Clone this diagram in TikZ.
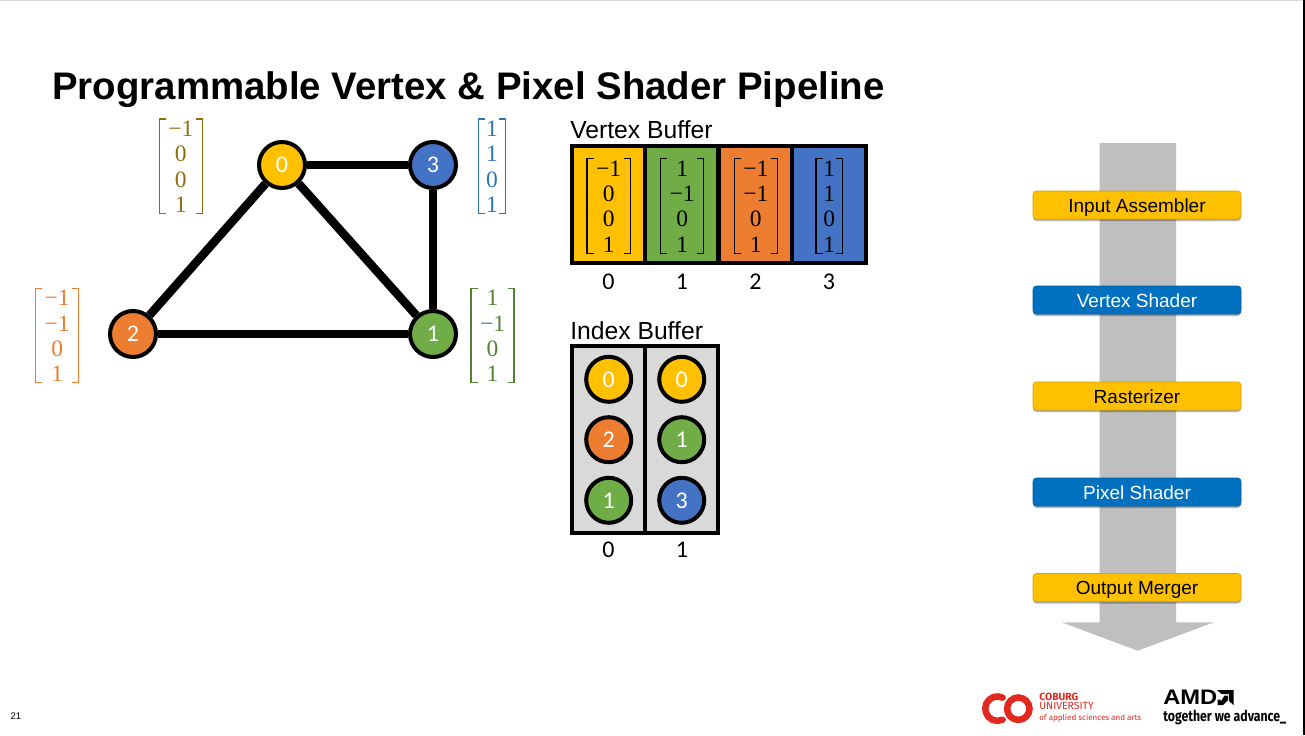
\documentclass[tikz,border=0pt]{standalone}
\usepackage{graphicx}
\usepackage{fontspec}
\newfontfamily\arialf{Liberation Sans}
\newfontfamily\calibf{Carlito}
\newfontfamily\togetherf{Fira Sans}
\newfontfamily\matf{Liberation Serif}
\usetikzlibrary{shadows}
\definecolor{cyel}{HTML}{FFC000}
\definecolor{cgrn}{HTML}{70AD47}
\definecolor{corg}{HTML}{ED7D31}
\definecolor{cblu}{HTML}{4472C4}
\definecolor{cmatyel}{HTML}{8F6E10}
\definecolor{cmatblu}{HTML}{2E75B6}
\definecolor{cmatgrn}{HTML}{548235}
\definecolor{cstage}{HTML}{0070C0}
\definecolor{cflow}{HTML}{BFBFBF}
\definecolor{cidx}{HTML}{D9D9D9}
\definecolor{cred}{HTML}{E3281F}
\newlength{\px}\setlength{\px}{0.75pt}
\newcommand{\pxfont}[2]{\fontsize{#1\px}{#2\px}\selectfont}
\tikzset{
  x=0.75pt,y=-0.75pt,
  vert/.style={circle,draw=black,line width=3pt,minimum size=34.5pt,inner sep=0pt,
     text=white,font=\calibf\pxfont{24}{25}},
  ivert/.style={vert,minimum size=33.75pt},
  edgeline/.style={line width=6.4pt,black},
  buf/.style={draw=black,line width=3pt,inner sep=0pt,outer sep=0pt,minimum width=55.1pt,anchor=north west},
  mat/.style={inner sep=0pt,align=center,font=\matf\pxfont{23.5}{25.2}},
  brk/.style={line width=1pt},
  lab/.style={font=\calibf\pxfont{24}{26},inner sep=0pt},
  heading/.style={font=\arialf\pxfont{24.7}{26},inner sep=0pt,anchor=west},
  stage/.style={rounded corners=2.5pt,minimum width=156pt,minimum height=21pt,inner sep=0pt,
     text height=12pt,text depth=1pt,
     font=\arialf\pxfont{19}{20},
     drop shadow={shadow xshift=0pt,shadow yshift=-1.5pt,opacity=.3,fill=black}},
  stagey/.style={stage,fill=cyel,draw=cyel!85!black,line width=.5pt,text=black},
  stageb/.style={stage,fill=cstage,draw=cstage!85!black,line width=.5pt,text=white},
}
% \brmat{name}{cx}{cy}{half width}{color}{rows}
\newcommand{\brmat}[6]{%
  \node[mat,text=#5] (#1) at (#2,#3+0.5) {#6};
  \coordinate (#1tl) at (#2-#4,#3-47.2);
  \coordinate (#1br) at (#2+#4,#3+47.2);
  \draw[brk,#5] ([xshift=6.5*0.75pt]#1tl) -- (#1tl) |- ([xshift=6.5*0.75pt]#1tl |- #1br);
  \draw[brk,#5] ([xshift=-6.5*0.75pt]#1br |- #1tl) -- (#1br |- #1tl) -- (#1br) -- ([xshift=-6.5*0.75pt]#1br);
}
\begin{document}
\begin{tikzpicture}
\useasboundingbox (0,0) rectangle (1305,735);
\fill[white] (0,0) rectangle (1305,735);
\draw[line width=.75pt,black!15] (0,0.5) -- (1303,0.5);
\fill[black] (1303,0) rectangle (1305,735);
% title
\node[inner sep=0pt,anchor=west,font=\arialf\bfseries\pxfont{38.4}{40}] (title) at (52,90) {Programmable Vertex \& Pixel Shader Pipeline};
% graph
\node[vert,fill=cyel] (v0) at (282,165) {0};
\node[vert,fill=cblu] (v3) at (433,165) {3};
\node[vert,fill=corg] (v2) at (133,334) {2};
\node[vert,fill=cgrn] (v1) at (433,334) {1};
\draw[edgeline] (v0) -- (v3);
\draw[edgeline] (v0) -- (v2);
\draw[edgeline] (v0) -- (v1);
\draw[edgeline] (v3) -- (v1);
\draw[edgeline] (v2) -- (v1);
% graph matrices
\brmat{m0}{180.8}{166.3}{21.5}{cmatyel}{−1\\0\\0\\1}
\brmat{m3}{492}{166.3}{13.3}{cmatblu}{1\\1\\0\\1}
\brmat{m2}{57.2}{335.5}{21.5}{corg}{−1\\−1\\0\\1}
\brmat{m1}{492.5}{335.5}{21.5}{cmatgrn}{1\\−1\\0\\1}
% vertex buffer
\node[heading] (vbh) at (570,130) {Vertex Buffer};
\node[buf,fill=cyel,minimum height=87.5pt] (b0) at (571.5,146.3) {};
\node[buf,fill=cgrn,minimum height=87.5pt] (b1) at (645,146.3) {};
\node[buf,fill=corg,minimum height=87.5pt] (b2) at (718.7,146.3) {};
\node[buf,fill=cblu,minimum height=87.5pt] (b3) at (792.3,146.3) {};
\brmat{bm0}{608.7}{206}{21.7}{black}{−1\\0\\0\\1}
\brmat{bm1}{682.2}{206}{21.5}{black}{1\\−1\\0\\1}
\brmat{bm2}{755.8}{206}{21.5}{black}{−1\\−1\\0\\1}
\brmat{bm3}{829.3}{206}{13.3}{black}{1\\1\\0\\1}
\node[lab] (bl0) at (608.5,282) {0};
\node[lab] (bl1) at (682,282) {1};
\node[lab] (bl2) at (755.5,282) {2};
\node[lab] (bl3) at (829,282) {3};
% index buffer
\node[heading] (ibh) at (570,331) {Index Buffer};
\node[buf,fill=cidx,minimum height=140pt] (i0) at (571.5,346.3) {};
\node[buf,fill=cidx,minimum height=140pt] (i1) at (645,346.3) {};
\node[ivert,fill=cyel] (i00) at (608.7,379.3) {0};
\node[ivert,fill=corg] (i01) at (608.7,439.7) {2};
\node[ivert,fill=cgrn] (i02) at (608.7,500.3) {1};
\node[ivert,fill=cyel] (i10) at (681.7,379.3) {0};
\node[ivert,fill=cgrn] (i11) at (681.7,439.7) {1};
\node[ivert,fill=cblu] (i12) at (681.7,500.3) {3};
\node[lab] (il0) at (608.5,550) {0};
\node[lab] (il1) at (682,550) {1};
% pipeline
\fill[cflow] (1099.5,143) -- (1176,143) -- (1176,622.3) -- (1214,622.3) -- (1137.7,650.7) -- (1061.7,622.3) -- (1099.5,622.3) -- cycle;
\node[stagey] (s0) at (1137,205) {Input Assembler};
\node[stageb] (s1) at (1137,300) {Vertex Shader};
\node[stagey] (s2) at (1137,396) {Rasterizer};
\node[stageb] (s3) at (1137,492) {Pixel Shader};
\node[stagey] (s4) at (1137,587.5) {Output Merger};
% page number
\node[inner sep=0pt,font=\arialf\pxfont{9.5}{10}] (pg) at (16,716) {21};
% coburg logo
\draw[cred,line width=4.9pt,line cap=round] (1002.6,697.6) arc[start angle=65,end angle=295,radius=9.15pt];
\draw[cred,line width=4.9pt] (1018.3,708.7) circle[radius=8.4pt];
\node[inner sep=0pt,anchor=west,text=cred,font=\togetherf\bfseries\pxfont{10.4}{10}] (cb1) at (1039,696.5) {COBURG};
\node[inner sep=0pt,anchor=west,text=cred,font=\togetherf\pxfont{10.4}{10}] (cb2) at (1039,706) {UNIVERSITY};
\node[inner sep=0pt,anchor=west,text=cred,font=\togetherf\pxfont{8}{9}] (cb3) at (1039,718) {of applied sciences and arts};
% amd logo
\node[inner sep=0pt,anchor=west,font=\arialf\bfseries\pxfont{21}{22}] (amd) at (1163,697.5) {\scalebox{1.13}[1]{AMD}};
\fill[black] (1217,690) -- (1233.5,690) -- (1233.5,705) -- (1229,701) -- (1229,694) -- (1221.5,694) -- cycle;
\fill[black] (1224.5,695.5) -- (1228,695.5) -- (1228,700) -- (1223,705) -- (1217.5,705) -- (1217.5,699.5) -- (1220.5,699.5) -- (1220.5,702) -- cycle;
\node[inner sep=0pt,anchor=west,font=\togetherf\bfseries\pxfont{15}{15}] (tw) at (1163,717.5) {\scalebox{.82}[1]{together we advance\_}};
\end{tikzpicture}
\end{document}
